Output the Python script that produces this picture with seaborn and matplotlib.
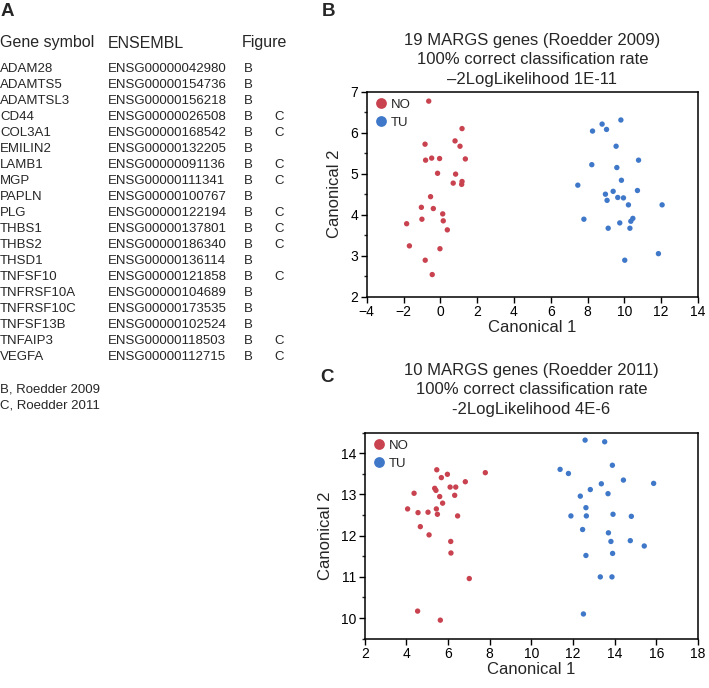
import matplotlib
matplotlib.use("Agg")
import matplotlib.pyplot as plt
from matplotlib.ticker import MultipleLocator
import seaborn as sns
import pandas as pd

sns.set_style("white")
plt.rcParams['font.family'] = ['Liberation Sans', 'DejaVu Sans']

# ---- Table data (panel A) ----
genes = ["ADAM28", "ADAMTS5", "ADAMTSL3", "CD44", "COL3A1", "EMILIN2", "LAMB1", "MGP",
         "PAPLN", "PLG", "THBS1", "THBS2", "THSD1", "TNFSF10", "TNFRSF10A", "TNFRSF10C",
         "TNFSF13B", "TNFAIP3", "VEGFA"]
ensembl = ["ENSG00000042980", "ENSG00000154736", "ENSG00000156218", "ENSG00000026508",
           "ENSG00000168542", "ENSG00000132205", "ENSG00000091136", "ENSG00000111341",
           "ENSG00000100767", "ENSG00000122194", "ENSG00000137801", "ENSG00000186340",
           "ENSG00000136114", "ENSG00000121858", "ENSG00000104689", "ENSG00000173535",
           "ENSG00000102524", "ENSG00000118503", "ENSG00000112715"]
fig_b = ["B"] * 19
fig_c = ["", "", "", "C", "C", "", "C", "C", "", "C", "C", "C", "", "C", "", "", "", "C", "C"]

# ---- Panel B data ----
b_no_x = [-0.63, 1.18, -0.83, 0.80, 1.07, -0.80, -0.47, -0.04, 1.36, -0.15, 0.83, 0.70, 1.18,
          1.16, -0.53, -1.03, -0.38, 0.13, -1.00, 0.16, -1.83, 0.38, -1.68, -0.02, -0.82, -0.44]
b_no_y = [6.77, 6.10, 5.72, 5.80, 5.67, 5.33, 5.38, 5.37, 5.36, 5.01, 4.99, 4.77, 4.81,
          4.74, 4.44, 4.18, 4.15, 4.02, 3.89, 3.85, 3.78, 3.63, 3.24, 3.17, 2.89, 2.54]
b_tu_x = [9.81, 8.79, 8.27, 9.03, 9.55, 10.77, 8.23, 9.59, 7.47, 9.84, 10.71, 9.39, 8.97,
          9.06, 9.64, 9.95, 10.22, 12.05, 7.80, 10.46, 10.35, 9.75, 9.12, 10.30, 11.85, 10.02]
b_tu_y = [6.31, 6.21, 6.04, 6.08, 5.67, 5.33, 5.22, 5.15, 4.72, 4.84, 4.59, 4.57, 4.50,
          4.35, 4.42, 4.41, 4.24, 4.24, 3.89, 3.91, 3.84, 3.80, 3.67, 3.67, 3.05, 2.89]

# ---- Panel C data ----
c_no_x = [5.46, 5.97, 5.68, 7.79, 6.83, 6.10, 6.37, 5.36, 5.42, 4.37, 6.32, 5.60, 5.74,
          4.06, 5.44, 4.56, 5.04, 5.49, 6.46, 4.67, 5.09, 6.13, 6.14, 7.02, 4.54, 5.63]
c_no_y = [13.60, 13.49, 13.41, 13.53, 13.31, 13.18, 13.18, 13.15, 13.10, 13.03, 12.98, 12.95,
          12.79, 12.65, 12.65, 12.56, 12.57, 12.52, 12.48, 12.22, 12.02, 11.86, 11.58, 10.96,
          10.17, 9.95]
c_tu_x = [12.58, 13.52, 13.89, 11.38, 11.78, 14.42, 15.87, 13.36, 12.83, 13.68, 12.35, 12.62,
          11.90, 12.64, 13.92, 14.80, 12.46, 13.70, 13.82, 14.75, 15.42, 12.62, 13.90, 13.31,
          13.87, 12.50]
c_tu_y = [14.32, 14.28, 13.71, 13.61, 13.51, 13.35, 13.27, 13.26, 13.12, 13.02, 12.96, 12.68,
          12.48, 12.48, 12.52, 12.47, 12.15, 12.07, 11.86, 11.88, 11.75, 11.52, 11.57, 11.00,
          11.00, 10.10]

groups = ["NO", "TU"]
palette = {"NO": "#c9424f", "TU": "#3f78c9"}


def make_df(nx, ny, tx, ty):
    return pd.DataFrame({
        "Canonical 1": list(nx) + list(tx),
        "Canonical 2": list(ny) + list(ty),
        "group": [groups[0]] * len(nx) + [groups[1]] * len(tx),
    })


fig = plt.figure(figsize=(7.09, 6.88), dpi=100)
W, H = 709.0, 688.0


def fx(px):
    return px / W


def fy(py):
    return 1 - py / H


# ---- Panel A: table ----
fig.text(fx(1), fy(11), "A", fontsize=13.5, fontweight="bold", va="center", ha="left")
hdr_y = 43
fig.text(fx(0), fy(hdr_y), "Gene symbol", fontsize=11.5, va="center", ha="left")
fig.text(fx(108), fy(hdr_y), "ENSEMBL", fontsize=11.5, va="center", ha="left")
fig.text(fx(242), fy(hdr_y), "Figure", fontsize=11.5, va="center", ha="left")
row0, dy = 69, 16.0
for i, (g, e, b, c) in enumerate(zip(genes, ensembl, fig_b, fig_c)):
    y = fy(row0 + i * dy)
    fig.text(fx(0), y, g, fontsize=9.5, va="center", ha="left")
    fig.text(fx(108), y, e, fontsize=9.5, va="center", ha="left")
    fig.text(fx(244), y, b, fontsize=9.5, va="center", ha="left")
    if c:
        fig.text(fx(274), y, c, fontsize=9.5, va="center", ha="left")
fig.text(fx(0), fy(389), "B, Roedder 2009", fontsize=9.5, va="center", ha="left")
fig.text(fx(0), fy(405), "C, Roedder 2011", fontsize=9.5, va="center", ha="left")


def panel(rect, df, xlim, ylim, xmaj, ymaj, ymin, title_lines, title_pad, letter, letter_pos):
    ax = fig.add_axes(rect)
    sns.scatterplot(data=df, x="Canonical 1", y="Canonical 2", hue="group",
                    palette=palette, s=15, linewidth=0, ax=ax, legend=True)
    ax.set_xlim(*xlim)
    ax.set_ylim(*ylim)
    ax.xaxis.set_major_locator(MultipleLocator(xmaj))
    ax.yaxis.set_major_locator(MultipleLocator(ymaj))
    ax.yaxis.set_minor_locator(MultipleLocator(ymin))
    ax.tick_params(axis="both", which="major", direction="out", length=4, width=1,
                   labelsize=10, colors="black", bottom=True, left=True, pad=2)
    ax.tick_params(axis="y", which="minor", direction="out", length=2.5, width=1, left=True)
    for s in ax.spines.values():
        s.set_color("black")
        s.set_linewidth(1.1)
    ax.set_xlabel("Canonical 1", fontsize=12, labelpad=1)
    ax.set_ylabel("Canonical 2", fontsize=12, labelpad=6)
    ax.legend(loc="upper left", frameon=False, fontsize=9.5, markerscale=2.0,
              handletextpad=0.1, labelspacing=0.45, borderaxespad=0.2,
              handlelength=1.2, borderpad=0.3)
    ax.set_title("\n".join(title_lines), fontsize=12, pad=title_pad, linespacing=1.35)
    fig.text(fx(letter_pos[0]), fy(letter_pos[1]), letter, fontsize=13.5,
             fontweight="bold", va="center", ha="left")
    return ax


dfb = make_df(b_no_x, b_no_y, b_tu_x, b_tu_y)
panel([fx(366.7), fy(296.7), (698 - 366.7) / W, 205 / H], dfb, (-4, 14), (2, 7),
      2, 1, 0.5,
      ["19 MARGS genes (Roedder 2009)", "100% correct classification rate",
       "\u20132LogLikelihood 1E-11"], 5.8, "B", (322, 12))

dfc = make_df(c_no_x, c_no_y, c_tu_x, c_tu_y)
panel([fx(364.7), fy(638.7), (698 - 364.7) / W, 206 / H], dfc, (2, 18), (9.5, 14.5),
      2, 1, 0.5,
      ["10 MARGS genes (Roedder 2011)", "100% correct classification rate",
       "-2LogLikelihood 4E-6"], 13.8, "C", (320, 378))

fig.savefig("out.png", dpi=100)
